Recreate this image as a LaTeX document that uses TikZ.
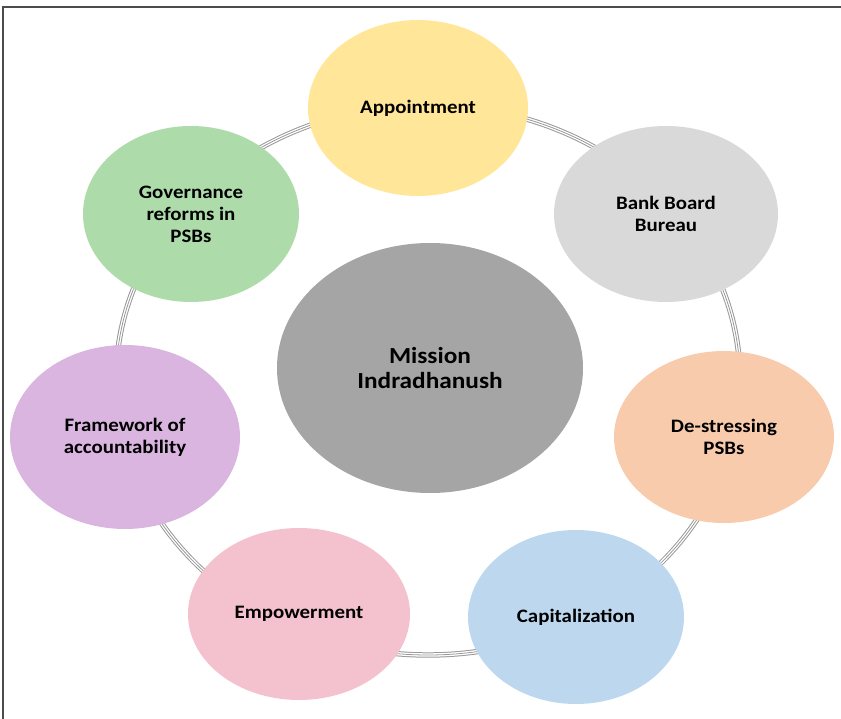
\documentclass[tikz,border=0pt]{standalone}
\usepackage{fontspec}
\setmainfont{Carlito}[FakeStretch=1.1]
\usetikzlibrary{shapes.geometric}

\definecolor{appyellow}{HTML}{FFE699}
\definecolor{boardgray}{HTML}{D9D9D9}
\definecolor{stressorange}{HTML}{F8CBAD}
\definecolor{capblue}{HTML}{BDD7EE}
\definecolor{powerpink}{HTML}{F4C2CE}
\definecolor{workpurple}{HTML}{D9B5E0}
\definecolor{govgreen}{HTML}{AEDBAA}
\definecolor{hubgray}{HTML}{A5A5A5}
\definecolor{ringgray}{HTML}{999999}

\begin{document}
\begin{tikzpicture}[
    % define styles
    x=1pt, y=-1pt,
    topic/.style={
        ellipse,
        draw=none,
        inner sep=0pt,
        align=center,
        font=\fontsize{19}{22}\selectfont\bfseries
    },
    hub/.style={
        topic,
        fill=hubgray,
        minimum width=306pt,
        minimum height=250pt,
        font=\fontsize{23}{25}\selectfont\bfseries
    },
    ring/.style={
        draw=ringgray,
        line width=1pt,
        double=white,
        double distance=3.4pt
    },
    ringmid/.style={
        draw=ringgray,
        line width=0.8pt
    },
    frame/.style={
        draw=black!70,
        line width=2pt
    }
]
\useasboundingbox (0,0) rectangle (841,719);

% outer frame (only top and left edges show)
\draw[frame] (3,719) -- (3,7) -- (841,7);

% ring behind the satellites
\draw[ring] (428,380) ellipse [x radius=312pt, y radius=275pt];
\draw[ringmid] (428,380) ellipse [x radius=312pt, y radius=275pt];

% centre
\node[hub] (mission) at (430,368) {Mission\\Indradhanush};

% satellites: name/x/y/width/height/colour/text
\foreach \n/\x/\y/\w/\h/\c/\t in {
    appoint/418/108/220/176/appyellow/{Appointment},
    board/666/214/224/176/boardgray/{Bank Board\\Bureau},
    stress/724/437/220/172/stressorange/{De-stressing\\PSBs},
    capital/576/617/216/174/capblue/{Capitalization},
    power/299/614/222/172/powerpink/{Empowerment},
    account/125/437/230/184/workpurple/{Framework of\\accountability},
    govern/191/214/216/176/govgreen/{Governance\\reforms in\\PSBs}}
    \node[topic, fill=\c, minimum width=\w pt, minimum height=\h pt] (\n) at (\x,\y) {\t};
\end{tikzpicture}
\end{document}
